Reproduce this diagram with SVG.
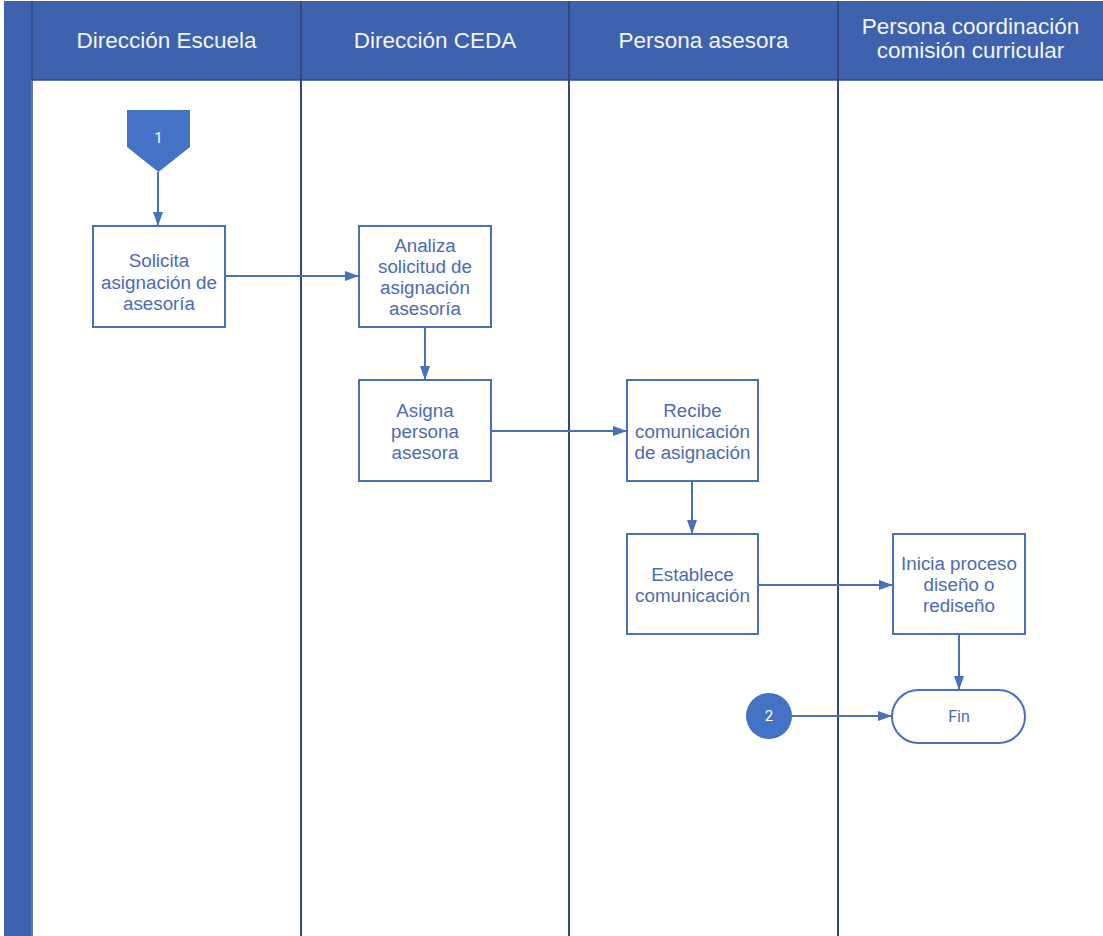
<svg xmlns="http://www.w3.org/2000/svg" width="1103" height="936" viewBox="0 0 1103 936">
<style>
.hdr{font-family:"Liberation Sans",Arial,sans-serif;font-size:22.5px;fill:#F2F5FB;text-anchor:middle}
.box{fill:#FFFFFF;stroke:#4A70B8;stroke-width:2}
.txt{font-family:"Liberation Sans",Arial,sans-serif;font-size:18.8px;fill:#4B6CB2;text-anchor:middle}
.lane{stroke:#34497A;stroke-width:2}
.conn{stroke:#4A70B8;stroke-width:2;fill:none;marker-end:url(#ah)}
.num{font-family:Roboto,"Liberation Sans",sans-serif;font-size:15px;fill:#FFFFFF;text-anchor:middle}
</style>
<defs>
<marker id="ah" viewBox="0 0 14 10" refX="14" refY="5" markerWidth="14" markerHeight="10" markerUnits="userSpaceOnUse" orient="auto">
<path d="M0,0 L14,5 L0,10 Z" fill="#4A70B8"/>
</marker>
</defs>
<rect x="0" y="0" width="1103" height="936" fill="#FFFFFF"/>
<g id="pool">
<rect x="4" y="1" width="1099" height="79" fill="#3E62AD"/>
<rect x="4" y="1" width="27" height="935" fill="#3E62AD"/>
<line x1="32" y1="1" x2="32" y2="936" stroke="#2E4A86" stroke-width="1.5"/>
<line x1="32" y1="80" x2="1103" y2="80" stroke="#2E4A86" stroke-width="1.5"/>
<line class="lane" x1="301" y1="1" x2="301" y2="936"/>
<line class="lane" x1="569" y1="1" x2="569" y2="936"/>
<line class="lane" x1="838" y1="1" x2="838" y2="936"/>
<text class="hdr" x="166.5" y="48">Dirección Escuela</text>
<text class="hdr" x="435" y="48">Dirección CEDA</text>
<text class="hdr" x="703.5" y="48">Persona asesora</text>
<text class="hdr" x="970.5" y="34">Persona coordinación</text>
<text class="hdr" x="970.5" y="57.5">comisión curricular</text>
</g>
<g id="connectors">
<line class="conn" x1="158" y1="172" x2="158" y2="226"/>
<line class="conn" x1="225" y1="276" x2="359" y2="276"/>
<line class="conn" x1="425" y1="327" x2="425" y2="380"/>
<line class="conn" x1="491" y1="431" x2="627" y2="431"/>
<line class="conn" x1="692" y1="481" x2="692" y2="534"/>
<line class="conn" x1="758" y1="585" x2="893" y2="585"/>
<line class="conn" x1="959" y1="634" x2="959" y2="690"/>
<line class="conn" x1="792" y1="716" x2="892" y2="716"/>
</g>
<g id="start1">
<path d="M127,110 L190,110 L190,147 L158.5,172 L127,147 Z" fill="#4472C4"/>
<text class="num" x="158.5" y="143">1</text>
</g>
<g id="solicita">
<rect class="box" x="93" y="226" width="132" height="101"/>
<text class="txt" x="159" y="267">Solicita</text>
<text class="txt" x="159" y="288.5">asignación de</text>
<text class="txt" x="159" y="310">asesoría</text>
</g>
<g id="analiza">
<rect class="box" x="359" y="226" width="132" height="101"/>
<text class="txt" x="425" y="252">Analiza</text>
<text class="txt" x="425" y="273">solicitud de</text>
<text class="txt" x="425" y="294">asignación</text>
<text class="txt" x="425" y="315">asesoría</text>
</g>
<g id="asigna">
<rect class="box" x="359" y="380" width="132" height="101"/>
<text class="txt" x="425" y="417">Asigna</text>
<text class="txt" x="425" y="438">persona</text>
<text class="txt" x="425" y="459">asesora</text>
</g>
<g id="recibe">
<rect class="box" x="627" y="380" width="131" height="101"/>
<text class="txt" x="692.5" y="417">Recibe</text>
<text class="txt" x="692.5" y="438">comunicación</text>
<text class="txt" x="692.5" y="459">de asignación</text>
</g>
<g id="establece">
<rect class="box" x="627" y="534" width="131" height="100"/>
<text class="txt" x="692.5" y="581">Establece</text>
<text class="txt" x="692.5" y="602">comunicación</text>
</g>
<g id="inicia">
<rect class="box" x="893" y="534" width="132" height="100"/>
<text class="txt" x="959" y="570">Inicia proceso</text>
<text class="txt" x="959" y="591">diseño o</text>
<text class="txt" x="959" y="612">rediseño</text>
</g>
<g id="conector2">
<circle cx="769" cy="716" r="23" fill="#4472C4"/>
<text class="num" x="769" y="721">2</text>
</g>
<g id="fin">
<rect class="box" x="892" y="690" width="133" height="53" rx="26.5" ry="26.5"/>
<text x="959" y="722" style="font-family:Roboto,'Liberation Sans',sans-serif;font-size:16px;fill:#4B6CB2;text-anchor:middle">Fin</text>
</g>
</svg>
